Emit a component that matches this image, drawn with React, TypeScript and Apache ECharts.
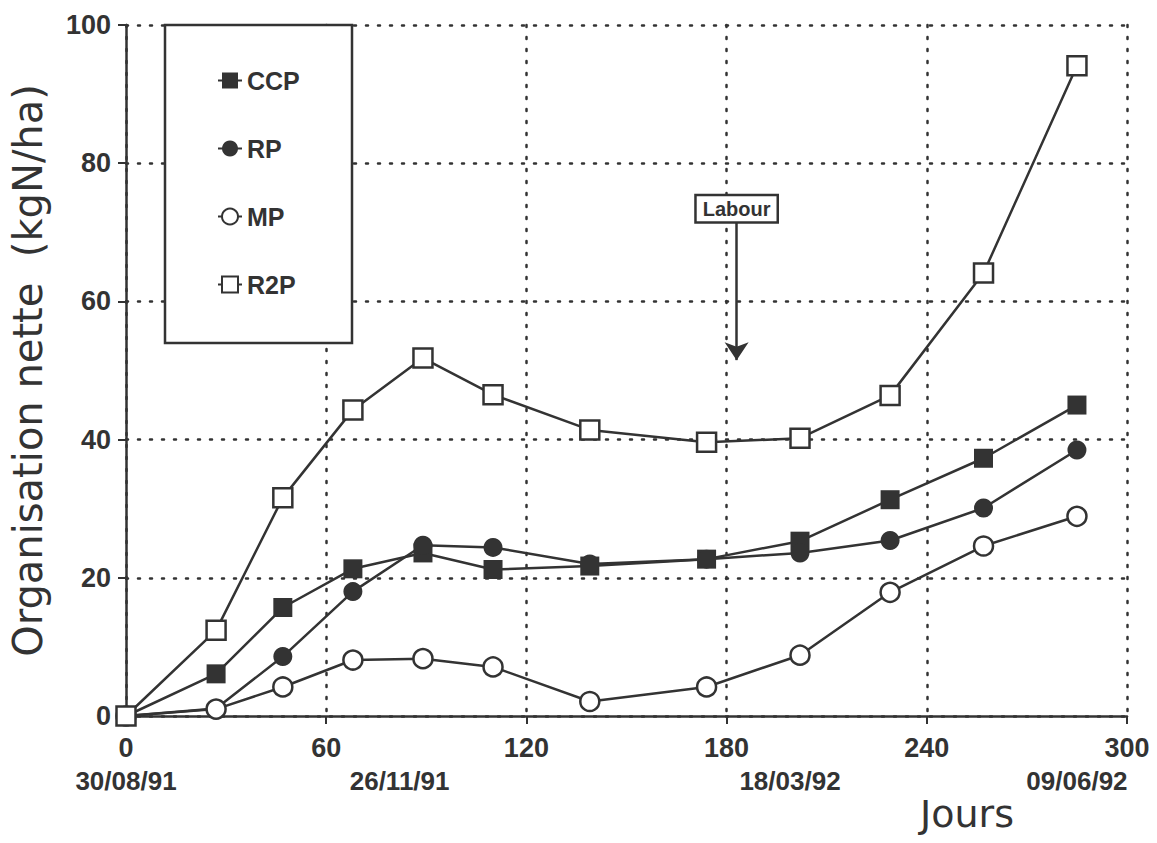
import React, { useEffect, useRef } from "react";
import * as echarts from "echarts";

const days = [0, 27, 47, 68, 89, 110, 139, 174, 202, 229, 257, 285];
const ccp = [0, 6.1, 15.7, 21.3, 23.6, 21.2, 21.7, 22.7, 25.3, 31.3, 37.3, 45.0];
const rp = [0, 1.1, 8.6, 18.0, 24.7, 24.4, 22.0, 22.7, 23.6, 25.4, 30.1, 38.5];
const mp = [0, 1.0, 4.2, 8.1, 8.3, 7.1, 2.1, 4.2, 8.8, 17.9, 24.6, 28.9];
const r2p = [0, 12.4, 31.6, 44.3, 51.8, 46.5, 41.4, 39.6, 40.2, 46.4, 64.1, 94.1];

const dateDays = [0, 82, 199, 285];
const dateLabels = ["30/08/91", "26/11/91", "18/03/92", "09/06/92"];

const labourDay = 183;
const labourTop = 71.6;
const labourTip = 51.5;

const INK = "#333333";
const LABEL_FONT = "Liberation Sans";
const TITLE_FONT = "DejaVu Sans";

function pairs(ys: number[]) {
  return days.map((d, i) => [d, ys[i]]);
}

export default function App() {
  const ref = useRef<HTMLDivElement>(null);
  useEffect(() => {
    if (!ref.current) return;
    const chart = echarts.init(ref.current, null, { renderer: "svg" });
    const lineStyle = { color: INK, width: 2.5 };
    const mk = (name: string, data: number[], symbol: string, hollow: boolean, extra: any = {}) => ({
      name,
      type: "line",
      xAxisIndex: 0,
      data: pairs(data),
      symbol,
      symbolSize: 19,
      showAllSymbol: true,
      lineStyle,
      itemStyle: hollow
        ? { color: "#ffffff", borderColor: INK, borderWidth: 2.5 }
        : { color: INK, borderColor: INK, borderWidth: 0 },
      z: 3,
      ...extra,
    });
    chart.setOption({
      animation: false,
      backgroundColor: "#ffffff",
      grid: { left: 125, right: 30, top: 25, bottom: 127 },
      xAxis: [
        {
          type: "value",
          min: 0,
          max: 300,
          interval: 60,
          axisLine: { show: true, lineStyle: { color: INK, width: 2.5 } },
          axisTick: { show: true, length: 8, lineStyle: { color: INK, width: 2 } },
          axisLabel: { color: INK, fontSize: 27, fontWeight: "bold", fontFamily: LABEL_FONT, margin: 18 },
          splitLine: { show: true, lineStyle: { color: INK, width: 2.5, type: [2, 10], cap: "round" } },
        },
        {
          type: "value",
          min: 0,
          max: 300,
          position: "bottom",
          offset: 34,
          axisLine: { show: false },
          axisTick: { show: false },
          splitLine: { show: false },
          axisLabel: {
            show: true,
            customValues: dateDays,
            color: INK,
            fontSize: 26,
            fontWeight: "bold",
            fontFamily: LABEL_FONT,
            margin: 18,
            formatter: (v: number) => {
              const i = dateDays.indexOf(v);
              return i >= 0 ? dateLabels[i] : "";
            },
          },
        },
      ],
      yAxis: {
        type: "value",
        min: 0,
        max: 100,
        interval: 20,
        name: "Organisation nette  (kgN/ha)",
        nameLocation: "middle",
        nameGap: 78,
        nameRotate: 90,
        nameTextStyle: { color: INK, fontSize: 40, fontFamily: TITLE_FONT },
        axisLine: { show: true, lineStyle: { color: INK, width: 2.5 } },
        axisTick: { show: true, length: 8, lineStyle: { color: INK, width: 2 } },
        axisLabel: { color: INK, fontSize: 27, fontWeight: "bold", fontFamily: LABEL_FONT, margin: 15 },
        splitLine: { show: true, lineStyle: { color: INK, width: 2.5, type: [2, 10], cap: "round" } },
      },
      legend: {
        orient: "vertical",
        left: 212,
        top: 63,
        z: 20,
        itemWidth: 24,
        itemHeight: 20,
        itemGap: 43,
        textStyle: { color: INK, fontSize: 25, fontWeight: "bold", fontFamily: LABEL_FONT, lineHeight: 20 },
        data: ["CCP", "RP", "MP", "R2P"],
      },
      graphic: [
        {
          type: "rect",
          z: 15,
          shape: { x: 165, y: 25, width: 187, height: 318 },
          style: { fill: "#ffffff", stroke: INK, lineWidth: 2.5 },
        },
        {
          type: "text",
          z: 15,
          x: 967,
          y: 814,
          style: {
            text: "Jours",
            fill: INK,
            fontSize: 38,
            fontFamily: TITLE_FONT,
            align: "center",
            verticalAlign: "middle",
          },
        },
      ],
      series: [
        mk("CCP", ccp, "rect", false),
        mk("RP", rp, "circle", false),
        mk("MP", mp, "circle", true),
        mk("R2P", r2p, "rect", true, {
          markLine: {
            silent: true,
            symbol: ["none", "arrow"],
            symbolSize: 18,
            lineStyle: { color: INK, width: 2.5, type: "solid" },
            label: {
              show: true,
              position: "start",
              formatter: "Labour",
              color: INK,
              fontSize: 20,
              fontWeight: "bold",
              fontFamily: LABEL_FONT,
              backgroundColor: "#ffffff",
              borderColor: INK,
              borderWidth: 2.5,
              padding: [3, 6, 2, 6],
              distance: 0,
            },
            data: [[{ coord: [labourDay, labourTop] }, { coord: [labourDay, labourTip] }]],
          },
        }),
      ],
    });
    return () => chart.dispose();
  }, []);
  return <div ref={ref} style={{ position: "fixed", left: 0, top: 0, width: 1157, height: 843 }} />;
}
